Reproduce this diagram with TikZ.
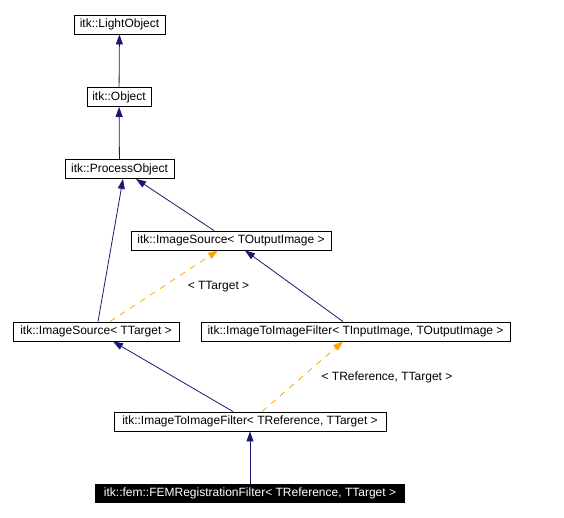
\documentclass[tikz,border=0pt]{standalone}
\usepackage{fontspec}
\setmainfont{Liberation Sans}
\usetikzlibrary{arrows.meta}
\definecolor{inhblue}{HTML}{191970}
\definecolor{tplorange}{HTML}{FFA500}

\begin{document}
\begin{tikzpicture}[x=1pt, y=-1pt,
    font=\fontsize{12}{14}\selectfont,
    cls/.style={draw=black, line width=0.9pt, inner sep=0pt, minimum height=19pt},
    leaf/.style={fill=black, text=white, inner sep=0pt, minimum height=19pt},
    inh/.style={draw=inhblue, line width=0.8pt, -{Triangle[length=10pt,width=7pt]}},
    tpl/.style={draw=tplorange, line width=0.8pt, dash pattern=on 6pt off 6pt, -{Triangle[length=10pt,width=7pt]}}]
			\useasboundingbox (0,0) rectangle (564,518);
			\node[cls, minimum width=91pt] (light) at (119.5,24.5) {itk::LightObject};
			\node[cls, minimum width=64pt] (obj) at (119,97) {itk::Object};
			\node[cls, minimum width=109pt] (proc) at (119.5,169) {itk::ProcessObject};
			\node[cls, minimum width=200pt] (isrcO) at (231,240.5) {itk::ImageSource< TOutputImage >};
			\node[cls, minimum width=166pt] (isrcT) at (96,331.5) {itk::ImageSource< TTarget >};
			\node[cls, minimum width=309pt] (itifIO) at (355.5,331.5) {itk::ImageToImageFilter< TInputImage, TOutputImage >};
			\node[cls, minimum width=272pt] (itifRT) at (250,421.5) {itk::ImageToImageFilter< TReference, TTarget >};
			\node[leaf, minimum width=310pt] (fem) at (250,493.5) {itk::fem::FEMRegistrationFilter< TReference, TTarget >};
			\node (lblT) at (218.5,287) {< TTarget >};
			\node (lblRT) at (387,377) {< TReference, TTarget >};
			\draw[inh] (obj) -- (light);
			\draw[inh] (proc) -- (obj);
			\draw[inh] ([xshift=-17pt]isrcO.north) -- ([xshift=16.5pt]proc.south);
			\draw[inh] ([xshift=2pt]isrcT.north) -- ([xshift=3.5pt]proc.south);
			\draw[tpl] ([xshift=14pt]isrcT.north) -- ([xshift=-13pt]isrcO.south);
			\draw[inh] ([xshift=-12.5pt]itifIO.north) -- ([xshift=14pt]isrcO.south);
			\draw[inh] ([xshift=-17pt]itifRT.north) -- ([xshift=17pt]isrcT.south);
			\draw[tpl] ([xshift=12pt]itifRT.north) -- ([xshift=-12.5pt]itifIO.south);
			\draw[inh] (fem) -- (itifRT);
\end{tikzpicture}
\end{document}
